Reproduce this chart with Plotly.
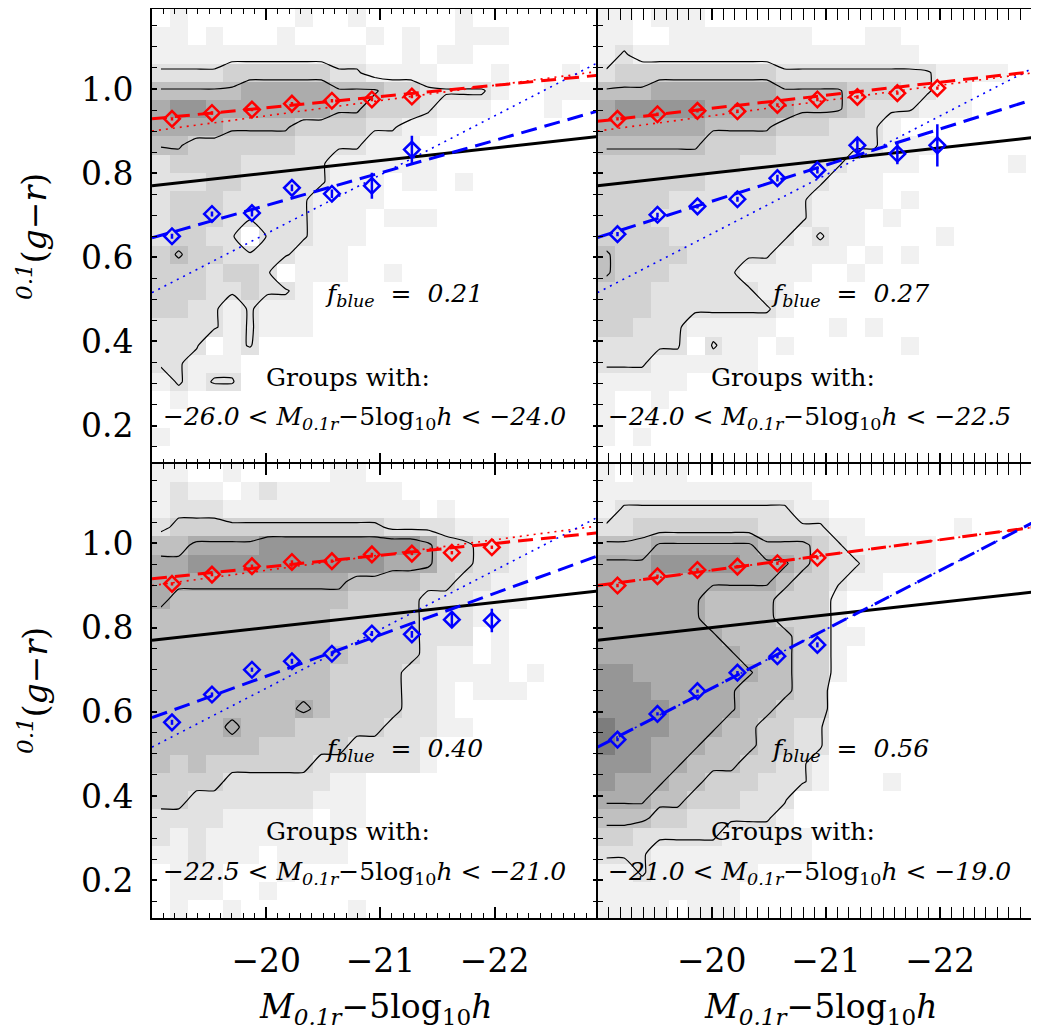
import plotly.graph_objects as go

# ---------------- data ----------------
# 2D-histogram grey levels (0 = white ... 7 = darkest), 25 x 25 bins, row 0 = top
GRID_TL = [
    "0100000010010000010000000",
    "1101000100001010011100000",
    "1111111111110010110000000",
    "2222333333221111000100010",
    "4444455555444332222100111",
    "5665555555443332111000100",
    "5555444433332211000000000",
    "4433333322221110000000000",
    "2333322222111111000000000",
    "2223322222111011010000000",
    "2333222221111000000000000",
    "2333222221110111000000000",
    "2332202221110000000000000",
    "3433222211100000000000000",
    "3332332011100100000000000",
    "3332232210000000000000000",
    "3322121110000000000000000",
    "2222121110000000000000000",
    "2220120000000000000000000",
    "2211100000000000000000000",
    "1212200000000000000000000",
    "0100000000000000000000000",
    "0000000000000000000000000",
    "1000000000000000000000000",
    "0000000000000000000000000",
]
GRID_TR = [
    "1101110000000000000000000",
    "1100111111110001100000000",
    "1211111111111111110000000",
    "2333333333222222222111100",
    "4445555555444433322110000",
    "5666665555544432221110000",
    "5555554444333222100000000",
    "4444443333222222111000000",
    "3333333322222211110000010",
    "3333332222222111000000000",
    "3333222222221111010000000",
    "3332222222221110100000000",
    "3333222222212110000100000",
    "4333322222111101010000000",
    "4333222211110010000000000",
    "3332222221100000000000000",
    "3332222222100000000000000",
    "3322211111000101000000000",
    "2222202110100000010000000",
    "2221111110000000000000000",
    "1111100000000000000000000",
    "1001000000000000000000000",
    "1000000000000000000000000",
    "1010000000000000000000000",
    "0000000000000000000000000",
]
GRID_BL = [
    "1100100000110000000000000",
    "1211012111111100000000000",
    "1222111111111110100000000",
    "2333333333333222211100000",
    "4455556666666665332210000",
    "5566666666666555332210000",
    "5555555555544443322110000",
    "5444444444433332221110000",
    "4444444444333332221100000",
    "4444444444333332220100000",
    "4444444444433332110100000",
    "4444444444333322111101000",
    "4444444444333322101110000",
    "4444444454333322100000000",
    "4444544433333222110000000",
    "4444443333322221000000000",
    "4343333332222221000000000",
    "3333222222110000000000000",
    "3322222221110000000000000",
    "2222111110110000000000000",
    "2121111111100000000000000",
    "1121110111100000000000000",
    "0111000100000000000000000",
    "0111001000000000000000000",
    "0100100000010000000000000",
]
GRID_BR = [
    "1011100000000000000000000",
    "1111111111110000000000000",
    "1222222222211000000000000",
    "2233333332222110000010000",
    "4445555554443211111000000",
    "5556666655543221111000000",
    "5555555555433211000000000",
    "5555554444333100000000000",
    "5555554444333100000000000",
    "5555555444433110000000000",
    "5555555544433100000000000",
    "6655555554433100000000000",
    "6665555544433000000000000",
    "6666555544333000000000000",
    "7666555443322000000000000",
    "7665554443322000000000000",
    "6665544433221000000000000",
    "6555443332221000100000000",
    "5554433322200000000000000",
    "4443322222100000000000000",
    "3322222111110000000000000",
    "2221111111110000000000000",
    "1121111110000000000000000",
    "1111111100000000000000000",
    "1111011100000000000000000",
]

# binned means (absolute magnitude bin centres and colours)
M_BINS = [-19.175, -19.525, -19.875, -20.225, -20.575, -20.925, -21.275, -21.625, -21.975]

RED_TL = [0.929, 0.943, 0.951, 0.965, 0.972, 0.975, 0.982]
BLUE_TL = [0.650, 0.703, 0.705, 0.765, 0.751, 0.770, 0.856]
BLUE_ERR_TL = [0.006, 0.006, 0.008, 0.008, 0.010, 0.031, 0.033]

RED_TR = [0.929, 0.940, 0.948, 0.947, 0.962, 0.975, 0.981, 0.990, 1.002]
BLUE_TR = [0.655, 0.701, 0.721, 0.738, 0.788, 0.807, 0.866, 0.846, 0.866]
BLUE_ERR_TR = [0.005, 0.005, 0.005, 0.006, 0.008, 0.008, 0.016, 0.025, 0.050]

RED_BL = [0.904, 0.926, 0.946, 0.956, 0.958, 0.974, 0.976, 0.978, 0.991]
BLUE_BL = [0.575, 0.641, 0.700, 0.720, 0.738, 0.786, 0.784, 0.819, 0.817]
BLUE_ERR_BL = [0.006, 0.005, 0.005, 0.006, 0.006, 0.006, 0.008, 0.017, 0.028]

RED_BR = [0.900, 0.922, 0.937, 0.945, 0.953, 0.966]
BLUE_BR = [0.534, 0.595, 0.649, 0.693, 0.732, 0.759]
BLUE_ERR_BR = [0.004, 0.004, 0.004, 0.004, 0.005, 0.006]

RED_ERR = 0.004

# straight lines, colour at M=-19 and at M=-23
LINE_M = [-19.0, -23.0]
DIVIDER = [0.770, 0.890]
RED_GLOBAL = [0.900, 1.045]
BLUE_GLOBAL = [0.516, 1.076]
RED_FIT_TL = [0.929, 1.035]
BLUE_FIT_TL = [0.646, 0.955]
RED_FIT_TR = [0.923, 1.047]
BLUE_FIT_TR = [0.647, 0.991]
RED_FIT_BL = [0.916, 1.028]
BLUE_FIT_BL = [0.586, 0.980]
RED_FIT_BR = RED_GLOBAL
BLUE_FIT_BR = BLUE_GLOBAL

F_BLUE = ["0.21", "0.27", "0.40", "0.56"]
GROUP_RANGES = [("−26.0", "−24.0"), ("−24.0", "−22.5"), ("−22.5", "−21.0"), ("−21.0", "−19.0")]

X_TICKS = [-20, -21, -22]
X_TICK_TEXT = ["−20", "−21", "−22"]
Y_TICKS = [0.2, 0.4, 0.6, 0.8, 1.0]
Y_TICK_TEXT = ["0.2", "0.4", "0.6", "0.8", "1.0"]

# ---------------- geometry ----------------
# the page body has an 8px margin, so the figure starts at page pixel (8, 8)
OFF = 8
W, H = 1039 - OFF, 1032 - OFF
ML = 152 - OFF          # left frame at page x = 152
MT = 9 - OFF            # top frame at page y = 9
MB = H - (918 - OFF)    # bottom frame at page y = 918
PW, PH = W - ML, H - MT - MB
XSPLIT = (597.5 - OFF - ML) / PW
X0, X1_L = -19.0, -22.9
X1_R = X0 + (X1_L - X0) * (W - (597.5 - OFF)) / (597.5 - 152)
Y0, Y1 = 0.11, 1.19
NB = 25
xc = [X0 + (X1_L - X0) * (i + 0.5) / NB for i in range(NB)]
yc = [Y1 - (Y1 - Y0) * (j + 0.5) / NB for j in range(NB)]

def grid(rows):
    return [[int(ch) for ch in r] for r in rows]

grey = [[0, "rgb(255,255,255)"], [1/7, "rgb(241,241,241)"], [2/7, "rgb(226,226,226)"],
        [3/7, "rgb(210,210,210)"], [4/7, "rgb(192,192,192)"], [5/7, "rgb(172,172,172)"],
        [6/7, "rgb(150,150,150)"], [1, "rgb(125,125,125)"]]

FONT = "DejaVu Serif"
fig = go.Figure()

panels = [
    dict(ax="x", ay="y", g=GRID_TL, red=RED_TL, blue=BLUE_TL, be=BLUE_ERR_TL, rf=RED_FIT_TL, bf=BLUE_FIT_TL, lev=[1.8, 3.8]),
    dict(ax="x2", ay="y2", g=GRID_TR, red=RED_TR, blue=BLUE_TR, be=BLUE_ERR_TR, rf=RED_FIT_TR, bf=BLUE_FIT_TR, lev=[1.8, 3.8]),
    dict(ax="x3", ay="y3", g=GRID_BL, red=RED_BL, blue=BLUE_BL, be=BLUE_ERR_BL, rf=RED_FIT_BL, bf=BLUE_FIT_BL, lev=[2.5, 4.6]),
    dict(ax="x4", ay="y4", g=GRID_BR, red=RED_BR, blue=BLUE_BR, be=BLUE_ERR_BR, rf=RED_FIT_BR, bf=BLUE_FIT_BR, lev=[1.8, 3.6, 4.8]),
]

for p in panels:
    z = grid(p["g"])
    fig.add_trace(go.Heatmap(x=xc, y=yc, z=z, colorscale=grey, zmin=0, zmax=7, showscale=False,
                             hoverinfo="skip", xaxis=p["ax"], yaxis=p["ay"]))
    for L in p["lev"]:
        fig.add_trace(go.Contour(x=xc, y=yc, z=z, autocontour=False,
                                 contours=dict(start=L, end=L, size=1, coloring="none", showlabels=False),
                                 line=dict(color="black", width=1.2, smoothing=0.5),
                                 showscale=False, hoverinfo="skip", xaxis=p["ax"], yaxis=p["ay"]))
    fig.add_trace(go.Scatter(x=LINE_M, y=DIVIDER, mode="lines", line=dict(color="black", width=3),
                             xaxis=p["ax"], yaxis=p["ay"], hoverinfo="skip"))
    fig.add_trace(go.Scatter(x=LINE_M, y=RED_GLOBAL, mode="lines", line=dict(color="red", width=1.6, dash="2px,5px"),
                             xaxis=p["ax"], yaxis=p["ay"], hoverinfo="skip"))
    fig.add_trace(go.Scatter(x=LINE_M, y=BLUE_GLOBAL, mode="lines", line=dict(color="blue", width=1.6, dash="2px,5px"),
                             xaxis=p["ax"], yaxis=p["ay"], hoverinfo="skip"))
    fig.add_trace(go.Scatter(x=LINE_M, y=p["rf"], mode="lines", line=dict(color="red", width=3, dash="15px,8px"),
                             xaxis=p["ax"], yaxis=p["ay"], hoverinfo="skip"))
    fig.add_trace(go.Scatter(x=LINE_M, y=p["bf"], mode="lines", line=dict(color="blue", width=3, dash="16px,8px"),
                             xaxis=p["ax"], yaxis=p["ay"], hoverinfo="skip"))
    n = len(p["red"])
    fig.add_trace(go.Scatter(x=M_BINS[:n], y=p["red"], mode="markers",
                             marker=dict(symbol="diamond-open", size=12, color="red", line=dict(width=2.5, color="red")),
                             error_y=dict(type="data", array=[RED_ERR] * n, color="red", thickness=2.5, width=0),
                             xaxis=p["ax"], yaxis=p["ay"], hoverinfo="skip"))
    fig.add_trace(go.Scatter(x=M_BINS[:n], y=p["blue"], mode="markers",
                             marker=dict(symbol="diamond-open", size=12, color="blue", line=dict(width=2.5, color="blue")),
                             error_y=dict(type="data", array=p["be"], color="blue", thickness=2.5, width=0),
                             xaxis=p["ax"], yaxis=p["ay"], hoverinfo="skip"))

fig.add_trace(go.Scatter(x=[None], y=[None], xaxis="x2", yaxis="y5", showlegend=False))
fig.add_trace(go.Scatter(x=[None], y=[None], xaxis="x4", yaxis="y6", showlegend=False))

tickfont = dict(family=FONT, size=33, color="black")
def xax(domain, rng, anchor, labels):
    return dict(domain=domain, range=rng, anchor=anchor, showline=True, linecolor="black", linewidth=2,
                mirror="allticks", ticks="inside", ticklen=11, tickwidth=1.5, tickcolor="black",
                tickmode="array", tickvals=X_TICKS, ticktext=X_TICK_TEXT, showticklabels=labels,
                tickfont=tickfont, ticklabelstandoff=12, showgrid=False, zeroline=False,
                minor=dict(tickmode="linear", tick0=-20, dtick=0.1, ticks="inside", ticklen=5,
                           tickwidth=1.2, tickcolor="black", showgrid=False))

def yax(domain, anchor, labels, mirror="allticks", showline=True, side="left", overlaying=None):
    d = dict(domain=domain, range=[Y0, Y1], anchor=anchor, showline=showline, linecolor="black", linewidth=2,
             mirror=mirror, ticks="inside", ticklen=5, tickwidth=1.5, tickcolor="black",
             tickmode="array", tickvals=Y_TICKS, ticktext=Y_TICK_TEXT, showticklabels=labels,
             tickfont=tickfont, ticklabelstandoff=10, showgrid=False, zeroline=False, side=side,
             minor=dict(tickmode="linear", tick0=0, dtick=0.05, ticks="inside", ticklen=5,
                        tickwidth=1.2, tickcolor="black", showgrid=False))
    if overlaying:
        d["overlaying"] = overlaying
    return d

fig.update_layout(
    width=W, height=H, margin=dict(l=ML, r=0, t=MT, b=MB, autoexpand=False),
    paper_bgcolor="white", plot_bgcolor="white", showlegend=False,
    xaxis=xax([0, XSPLIT], [X0, X1_L], "y", False),
    xaxis2=xax([XSPLIT, 1], [X0, X1_R], "y2", False),
    xaxis3=xax([0, XSPLIT], [X0, X1_L], "y3", True),
    xaxis4=xax([XSPLIT, 1], [X0, X1_R], "y4", True),
    yaxis=yax([0.5, 1], "x", True),
    yaxis2=yax([0.5, 1], "x2", False, mirror=False),
    yaxis3=yax([0, 0.5], "x3", True),
    yaxis4=yax([0, 0.5], "x4", False, mirror=False),
    yaxis5=yax([0.5, 1], "x2", False, mirror=False, showline=False, side="right", overlaying="y2"),
    yaxis6=yax([0, 0.5], "x4", False, mirror=False, showline=False, side="right", overlaying="y4"),
)

def px(xp, yp):
    """page pixel -> paper coordinates"""
    return (xp - OFF - ML) / PW, (H - MB - (yp - OFF)) / PH

ann = []
offsets = [(0, 0), (445.5, 0), (0, 454.5), (445.5, 454.5)]
for k, (dx, dy) in enumerate(offsets):
    x, y = px(404 + dx, 295 + dy)
    ann.append(dict(x=x, y=y, xref="paper", yref="paper", showarrow=False, xanchor="center", yanchor="middle",
                    text="<i>f</i><sub><i>blue</i></sub><i>  =  " + F_BLUE[k] + "</i>",
                    font=dict(family=FONT, size=25, color="black")))
    x, y = px(347.5 + dx, 377 + dy)
    ann.append(dict(x=x, y=y, xref="paper", yref="paper", showarrow=False, xanchor="center", yanchor="middle",
                    text="Groups with:", font=dict(family=FONT, size=25, color="black")))
    lo, hi = GROUP_RANGES[k]
    x, y = px(364 + dx, 418 + dy)
    ann.append(dict(x=x, y=y, xref="paper", yref="paper", showarrow=False, xanchor="center", yanchor="middle",
                    text="<i>" + lo + "</i> &lt; <i>M</i><sub><i>0.1r</i></sub>−5log<sub>10</sub><i>h</i> &lt; <i>" + hi + "</i>",
                    font=dict(family=FONT, size=25, color="black")))

for cx in [375, 820]:
    x, y = px(cx, 1008)
    ann.append(dict(x=x, y=y, xref="paper", yref="paper", showarrow=False, xanchor="center", yanchor="middle",
                    text="<i>M</i><sub><i>0.1r</i></sub>−5log<sub>10</sub><i>h</i>",
                    font=dict(family=FONT, size=33, color="black")))
for cy in [236, 690]:
    x, y = px(33, cy)
    ann.append(dict(x=x, y=y, xref="paper", yref="paper", showarrow=False, xanchor="center", yanchor="middle",
                    textangle=-90, text="<i><sup>0.1</sup></i>(<i>g</i>−<i>r</i>)",
                    font=dict(family=FONT, size=33, color="black")))
fig.update_layout(annotations=ann)

fig.write_html("out.html")
